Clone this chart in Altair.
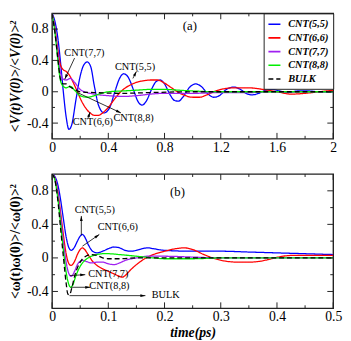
import math
import altair as alt
import pandas as pd

# ---------------- data ----------------
SERIES = ["CNT(5,5)", "CNT(6,6)", "CNT(7,7)", "CNT(8,8)", "BULK"]
COLORS = ["#0000ff", "#ff0000", "#a020f0", "#00ee00", "#000000"]
DASHES = [[1, 0], [1, 0], [1, 0], [1, 0], [5, 3]]

# panel (a): velocity autocorrelation, t in ps
A55_T = [0, 0.02, 0.04, 0.06, 0.08, 0.10, 0.12, 0.14, 0.17, 0.20, 0.225, 0.25, 0.275, 0.30, 0.33,
         0.37, 0.41, 0.45, 0.48, 0.51, 0.54, 0.58, 0.61, 0.64, 0.67, 0.71, 0.74, 0.77, 0.80, 0.84,
         0.87, 0.90, 0.93, 0.98, 1.02, 1.06, 1.11, 1.15, 1.19, 1.24, 1.29, 1.34, 1.38, 1.42, 1.47,
         1.52, 1.57, 1.62, 1.68, 1.75, 1.82, 1.9, 2.0]
A55_V = [1.0, 0.9, 0.7, 0.38, 0.0, -0.32, -0.48, -0.42, -0.1, 0.2, 0.34, 0.38, 0.32, 0.08, -0.17,
         -0.27, -0.2, 0.02, 0.17, 0.23, 0.19, 0.02, -0.12, -0.17, -0.12, 0.04, 0.13, 0.15, 0.1, -0.04,
         -0.11, -0.12, -0.07, 0.06, 0.1, 0.07, -0.03, -0.07, -0.05, 0.03, 0.06, 0.03, -0.02, -0.04, -0.02,
         0.02, 0.03, 0.01, -0.01, 0.01, 0.01, 0.0, 0.0]
A66_T = [0, 0.02, 0.04, 0.06, 0.08, 0.1, 0.12, 0.15, 0.18, 0.21, 0.24, 0.27, 0.30, 0.33, 0.36, 0.40,
         0.45, 0.5, 0.55, 0.6, 0.65, 0.7, 0.75, 0.8, 0.85, 0.9, 0.95, 1.0, 1.05, 1.1, 1.15, 1.2, 1.3,
         1.4, 1.5, 1.6, 1.7, 1.8, 1.9, 2.0]
A66_V = [1.0, 0.82, 0.55, 0.34, 0.28, 0.26, 0.22, 0.12, 0.0, -0.12, -0.21, -0.27, -0.3, -0.3, -0.27, -0.2,
         -0.08, 0.02, 0.08, 0.12, 0.14, 0.15, 0.15, 0.11, 0.05, -0.01, -0.05, -0.07, -0.07, -0.04, 0.0, 0.03, 0.05,
         0.05, 0.03, 0.0, -0.03, -0.02, 0.0, 0.02]
A77_T = [0, 0.02, 0.04, 0.06, 0.08, 0.1, 0.13, 0.16, 0.2, 0.25, 0.3, 0.4, 0.5, 0.6, 0.7, 0.8, 0.9, 1.0,
         1.2, 1.4, 1.6, 1.8, 2.0]
A77_V = [1.0, 0.8, 0.5, 0.24, 0.16, 0.15, 0.17, 0.12, 0.03, -0.01, -0.03, -0.05, -0.06, -0.05, -0.03, -0.02,
         -0.02, -0.02, -0.01, -0.01, 0.0, 0.0, 0.0]
A88_T = [0, 0.02, 0.04, 0.06, 0.08, 0.1, 0.13, 0.16, 0.2, 0.25, 0.3, 0.35, 0.4, 0.5, 0.6, 0.7, 0.8, 0.9,
         1.0, 1.2, 1.5, 2.0]
A88_V = [1.0, 0.76, 0.42, 0.14, 0.07, 0.05, 0.07, 0.02, -0.05, -0.07, -0.05, -0.02, 0.0, 0.01, 0.02, 0.03,
         0.03, 0.02, 0.01, 0.0, 0.0, 0.0]
ABK_T = [0, 0.02, 0.04, 0.06, 0.08, 0.1, 0.13, 0.17, 0.2, 0.3, 0.5, 0.7, 1.0, 1.5, 2.0]
ABK_V = [1.0, 0.76, 0.44, 0.16, 0.1, 0.1, 0.06, 0.02, 0.0, -0.01, -0.02, -0.01, 0.0, 0.0, 0.0]

# panel (b): angular velocity autocorrelation
B55_T = [0, 0.005, 0.01, 0.015, 0.02, 0.025, 0.03, 0.034, 0.04, 0.045, 0.05, 0.054, 0.058, 0.065, 0.072,
         0.08, 0.09, 0.1, 0.11, 0.12, 0.13, 0.14, 0.15, 0.16, 0.17, 0.18, 0.2, 0.25, 0.3, 0.35, 0.4, 0.45, 0.5]
B55_V = [1.0, 0.97, 0.88, 0.7, 0.47, 0.25, 0.12, 0.09, 0.13, 0.2, 0.26, 0.28, 0.25, 0.15, 0.08,
         0.06, 0.08, 0.11, 0.13, 0.12, 0.09, 0.08, 0.09, 0.11, 0.12, 0.11, 0.09, 0.08, 0.08, 0.07, 0.06, 0.05, 0.04]
B66_T = [0, 0.005, 0.01, 0.015, 0.02, 0.025, 0.03, 0.034, 0.04, 0.045, 0.05, 0.054, 0.058, 0.065, 0.072,
         0.08, 0.09, 0.1, 0.11, 0.12, 0.125, 0.13, 0.14, 0.15, 0.16, 0.17, 0.18, 0.2, 0.22, 0.235, 0.25,
         0.27, 0.29, 0.31, 0.33, 0.35, 0.37, 0.39, 0.41, 0.43, 0.45, 0.5]
B66_V = [1.0, 0.95, 0.8, 0.55, 0.28, 0.05, -0.07, -0.09, -0.04, 0.04, 0.1, 0.12, 0.1, 0.03, -0.04,
         -0.09, -0.13, -0.16, -0.19, -0.22, -0.23, -0.21, -0.14, -0.08, -0.03, 0.01, 0.04, 0.08, 0.11, 0.12, 0.1,
         0.04, -0.01, -0.04, -0.05, -0.05, -0.04, -0.01, 0.02, 0.03, 0.03, 0.03]
B77_T = [0, 0.005, 0.01, 0.015, 0.02, 0.025, 0.03, 0.034, 0.04, 0.045, 0.05, 0.055, 0.06, 0.07, 0.08,
         0.09, 0.1, 0.11, 0.12, 0.13, 0.15, 0.17, 0.2, 0.25, 0.3, 0.5]
B77_V = [1.0, 0.95, 0.78, 0.5, 0.2, -0.05, -0.19, -0.22, -0.16, -0.08, -0.04, -0.03, -0.04, -0.06, -0.05,
         -0.05, -0.07, -0.08, -0.06, -0.03, 0.0, 0.02, 0.02, 0.01, 0.0, 0.0]
B88_T = [0, 0.005, 0.01, 0.015, 0.02, 0.025, 0.03, 0.033, 0.037, 0.042, 0.05, 0.06, 0.07, 0.08, 0.09,
         0.1, 0.12, 0.15, 0.18, 0.2, 0.25, 0.3, 0.5]
B88_V = [1.0, 0.93, 0.72, 0.42, 0.1, -0.17, -0.32, -0.35, -0.32, -0.22, -0.1, -0.02, 0.02, 0.04, 0.05,
         0.05, 0.04, 0.02, 0.0, -0.01, -0.01, 0.0, 0.0]
BBK_T = [0, 0.005, 0.01, 0.015, 0.02, 0.025, 0.028, 0.031, 0.035, 0.04, 0.05, 0.06, 0.07, 0.08, 0.09,
         0.1, 0.12, 0.15, 0.2, 0.5]
BBK_V = [1.0, 0.93, 0.7, 0.36, 0.02, -0.3, -0.43, -0.44, -0.36, -0.22, -0.05, 0.02, 0.04, 0.03, 0.0,
         -0.01, -0.01, 0.0, 0.0, 0.0]

# axis ticks
A_X_MAJOR = [0, 0.4, 0.8, 1.2, 1.6, 2.0]
A_X_MINOR = [0.2, 0.6, 1.0, 1.4, 1.8]
B_X_MAJOR = [0, 0.1, 0.2, 0.3, 0.4, 0.5]
B_X_MINOR = [0.05, 0.15, 0.25, 0.35, 0.45]
Y_MAJOR = [-0.4, 0, 0.4, 0.8]
Y_MINOR = [-0.2, 0.2, 0.6]

# annotations (data coordinates)
A_LABELS = ["CNT(7,7)", "CNT(5,5)", "CNT(6,6)", "CNT(8,8)", "(a)"]
A_LAB_T = [0.23, 0.59, 0.29, 0.58, 0.98]
A_LAB_V = [0.49, 0.31, -0.39, -0.33, 0.84]
A_ARR_T1 = [0.16, 0.575, 0.255, 0.18]
A_ARR_V1 = [0.43, 0.17, -0.34, -0.01]
A_ARR_T2 = [0.09, 0.6, 0.27, 0.49]
A_ARR_V2 = [0.16, 0.26, -0.26, -0.27]

B_LABELS = ["CNT(5,5)", "CNT(6,6)", "CNT(7,7)", "CNT(8,8)", "BULK", "(b)"]
B_LAB_T = [0.076, 0.117, 0.1, 0.102, 0.202, 0.223]
B_LAB_V = [0.565, 0.37, -0.19, -0.33, -0.44, 0.78]
B_ARR_T1 = [0.052, 0.054, 0.032, 0.033, 0.031]
B_ARR_V1 = [0.27, 0.14, -0.21, -0.35, -0.45]
B_ARR_T2 = [0.052, 0.084, 0.059, 0.068, 0.166]
B_ARR_V2 = [0.5, 0.28, -0.2, -0.35, -0.45]

FONT = "Liberation Serif"
W = 287
HA = 128
HB = 137


def long_df(ts, vs):
    rows = []
    for name, t, v in zip(SERIES, ts, vs):
        for a, b in zip(t, v):
            rows.append({"t": a, "v": b, "series": name})
    return pd.DataFrame(rows)


LABEL_EXPR = "replace(format(datum.value, '.1~f'), '\u2212', '-')"


def panel(df, height, xdom, xmaj, xmin, ytitle, xtitle, show_legend,
          labels, lab_t, lab_v, at1, av1, at2, av2, ytitle_style):
    xs = alt.Scale(domain=xdom, nice=False, zero=False)
    ys = alt.Scale(domain=[-0.6, 1.0], nice=False, zero=False)
    if show_legend:
        leg = alt.Legend(title=None, orient="top-right", offset=0, padding=4,
                         strokeColor="#222", fillColor="white",
                         labelFont=FONT, labelFontSize=10.5, labelFontStyle="italic",
                         labelFontWeight="bold", labelColor="black",
                         symbolType="stroke", symbolSize=150, symbolStrokeWidth=1.6,
                         rowPadding=1, labelOffset=7)
    else:
        leg = None
    xaxis = alt.Axis(values=xmaj, labelExpr=LABEL_EXPR, ticks=False, tickSize=0, domain=False,
                     grid=False, labelPadding=2, labelFlush=False,
                     title=xtitle if xtitle else "", titleFontStyle="italic",
                     titleFontWeight="bold", titlePadding=2)
    yaxis = alt.Axis(values=Y_MAJOR, labelExpr=LABEL_EXPR, ticks=False, tickSize=0, domain=False,
                     grid=False, labelPadding=4, title=ytitle, titleFontWeight="bold",
                     titleFontStyle=ytitle_style, titlePadding=4)

    def X(f):
        return alt.X(f, scale=xs, axis=xaxis)

    def Y(f):
        return alt.Y(f, scale=ys, axis=yaxis)

    enc = dict(
        x=X("t:Q"),
        y=Y("v:Q"),
        color=alt.Color("series:N", scale=alt.Scale(domain=SERIES, range=COLORS), legend=leg),
        strokeDash=alt.StrokeDash("series:N", scale=alt.Scale(domain=SERIES, range=DASHES), legend=leg),
    )
    lines_cnt = alt.Chart(df[df.series != "BULK"]).mark_line(
        strokeWidth=1.3, interpolate="monotone", clip=True).encode(**enc)
    lines_bulk = alt.Chart(df[df.series == "BULK"]).mark_line(
        strokeWidth=1.3, interpolate="monotone", clip=True).encode(**enc)

    layers = [lines_cnt, lines_bulk]
    # inward ticks on all four sides
    for vals, L in ((xmaj, 6), (xmin, 3)):
        d = pd.DataFrame({"t": vals})
        base = alt.Chart(d).mark_rule(color="#222", strokeWidth=1)
        layers.append(base.encode(x=X("t:Q"), y=alt.value(height), y2=alt.value(height - L)))
        layers.append(base.encode(x=X("t:Q"), y=alt.value(0), y2=alt.value(L)))
    for vals, L in ((Y_MAJOR, 6), (Y_MINOR, 3)):
        d = pd.DataFrame({"v": vals})
        base = alt.Chart(d).mark_rule(color="#222", strokeWidth=1)
        layers.append(base.encode(y=Y("v:Q"), x=alt.value(0), x2=alt.value(L)))
        layers.append(base.encode(y=Y("v:Q"), x=alt.value(W), x2=alt.value(W - L)))

    # annotation text
    td = pd.DataFrame({"t": lab_t, "v": lab_v, "txt": labels})
    td["fs"] = [13 if s.startswith("(") else 10.5 for s in labels]
    layers.append(alt.Chart(td).mark_text(font=FONT, color="black", align="center", baseline="middle").encode(
        x=X("t:Q"), y=Y("v:Q"), text="txt:N",
        size=alt.Size("fs:Q", scale=None, legend=None)))

    # arrows
    sx = W / (xdom[1] - xdom[0])
    sy = height / 1.6
    ad = pd.DataFrame({"t": at1, "v": av1, "t2": at2, "v2": av2})
    ad["ang"] = [math.degrees(math.atan2((b - a) * sx, (d - c) * sy)) % 360
                 for a, b, c, d in zip(at1, at2, av1, av2)]
    layers.append(alt.Chart(ad).mark_rule(color="black", strokeWidth=0.8).encode(
        x=X("t:Q"), y=Y("v:Q"), x2="t2:Q", y2="v2:Q"))
    hd = pd.DataFrame({"t": at2, "v": av2, "ang": ad["ang"]})
    layers.append(alt.Chart(hd).mark_point(shape="M0,0L-0.6,2.2L0.6,2.2Z", filled=True, color="black",
                                           opacity=1, size=22).encode(
        x=X("t:Q"), y=Y("v:Q"),
        angle=alt.Angle("ang:Q", scale=None)))

    return alt.layer(*layers).properties(width=W, height=height)


df_a = long_df([A55_T, A66_T, A77_T, A88_T, ABK_T], [A55_V, A66_V, A77_V, A88_V, ABK_V])
df_b = long_df([B55_T, B66_T, B77_T, B88_T, BBK_T], [B55_V, B66_V, B77_V, B88_V, BBK_V])

pa = panel(df_a, HA, [0, 2], A_X_MAJOR, A_X_MINOR, "<V(t)V(0)>/<V(0)>\u00b2", None, True,
           A_LABELS, A_LAB_T, A_LAB_V, A_ARR_T1, A_ARR_V1, A_ARR_T2, A_ARR_V2, "italic")
pb = panel(df_b, HB, [0, 0.5], B_X_MAJOR, B_X_MINOR, "<\u03c9(t)\u03c9(0)>/<\u03c9(0)>\u00b2", "time(ps)", False,
           B_LABELS, B_LAB_T, B_LAB_V, B_ARR_T1, B_ARR_V1, B_ARR_T2, B_ARR_V2, "normal")

chart = alt.vconcat(pa, pb, spacing=17).resolve_legend(
    color="independent", strokeDash="independent"
).properties(padding=0).configure_view(
    stroke="#222", strokeWidth=1.4
).configure_axis(
    labelFont=FONT, labelFontSize=14, labelColor="black",
    titleFont=FONT, titleFontSize=14, titleColor="black"
).configure_text(font=FONT)

chart.save("out.html", embed_options={"renderer": "svg", "actions": False})
